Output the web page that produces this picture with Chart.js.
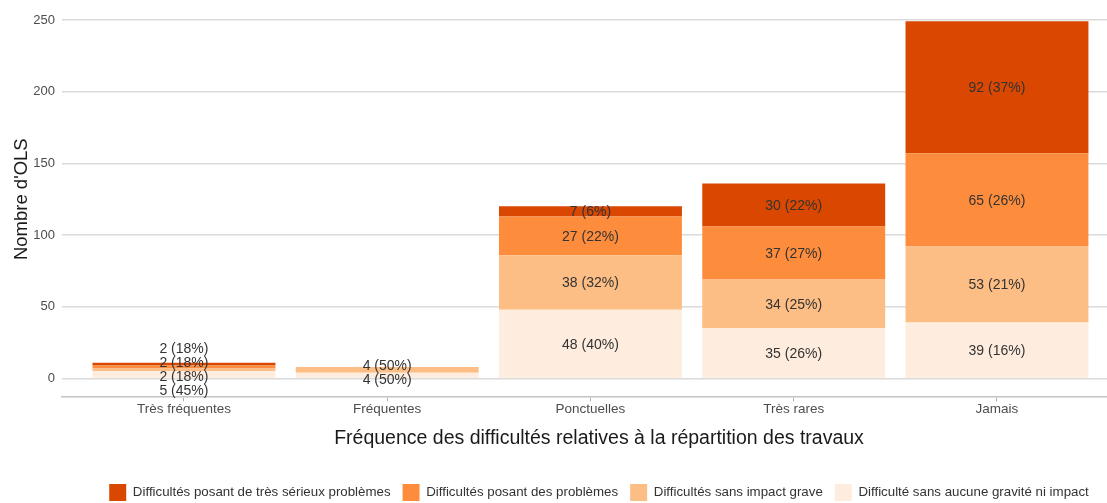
<!DOCTYPE html>
<html lang="fr">
<head>
<meta charset="utf-8">
<title>Fréquence des difficultés relatives à la répartition des travaux</title>
<script src="https://cdn.jsdelivr.net/npm/chart.js@4.4.0/dist/chart.umd.min.js"></script>
<style>
  html, body { margin: 0; padding: 0; background: #fff; overflow: hidden; }
  #wrap { width: 1107px; height: 503px; overflow: hidden; }
</style>
</head>
<body>
<div id="wrap"><canvas id="myChart" width="1136" height="503"></canvas></div>
<script>
const categories = ["Très fréquentes", "Fréquentes", "Ponctuelles", "Très rares", "Jamais"];

// stacked from the bottom up
const sansGravite = [5, 4, 48, 35, 39];
const sansImpactGrave = [2, 4, 38, 34, 53];
const posantProblemes = [2, 0, 27, 37, 65];
const tresSerieux = [2, 0, 7, 30, 92];

const yTicks = [0, 50, 100, 150, 200, 250];

const seriesLabels = [
  "Difficulté sans aucune gravité ni impact",
  "Difficultés sans impact grave",
  "Difficultés posant des problèmes",
  "Difficultés posant de très sérieux problèmes",
];
const seriesValues = [sansGravite, sansImpactGrave, posantProblemes, tresSerieux];
const seriesColors = ["#feedde", "#fdbe85", "#fd8d3c", "#d94701"];

const FONT = "'Liberation Sans', Arial, sans-serif";

// R style rounding (half to even), so 22.5 -> 22
function pct(v, total) {
  const x = (v / total) * 100;
  const f = Math.floor(x);
  if (Math.abs(x - f - 0.5) < 1e-9) return f % 2 === 0 ? f : f + 1;
  return Math.round(x);
}

// push overlapping labels apart around their common centre
function spread(items, gap) {
  items.sort((a, b) => a.y - b.y);
  let moved = true;
  while (moved) {
    moved = false;
    const groups = [];
    items.forEach((it) => {
      const g = groups[groups.length - 1];
      if (g && it.y - g[g.length - 1].y < gap - 0.01) g.push(it);
      else groups.push([it]);
    });
    groups.forEach((g) => {
      if (g.length < 2) return;
      const mid = g.reduce((s, it) => s + it.y, 0) / g.length;
      g.forEach((it, k) => {
        it.y = mid + (k - (g.length - 1) / 2) * gap;
      });
      moved = true;
    });
  }
}

const stackLabels = {
  id: "stackLabels",
  afterDatasetsDraw(chart) {
    const ctx = chart.ctx;
    ctx.save();
    ctx.font = "14px " + FONT;
    ctx.fillStyle = "#333333";
    ctx.textAlign = "center";
    ctx.textBaseline = "middle";
    categories.forEach((cat, i) => {
      const total = seriesValues.reduce((s, arr) => s + arr[i], 0);
      const items = [];
      seriesValues.forEach((arr, d) => {
        const v = arr[i];
        if (!v) return;
        const bar = chart.getDatasetMeta(d).data[i];
        items.push({ text: v + " (" + pct(v, total) + "%)", x: bar.x, y: (bar.y + bar.base) / 2 });
      });
      spread(items, 14);
      items.forEach((it) => ctx.fillText(it.text, it.x, it.y + 1));
    });
    ctx.restore();
  },
};

const data = {
  datasets: seriesValues.map((values, d) => ({
    label: seriesLabels[d],
    data: values.map((v, i) => ({ x: i, y: v })),
    backgroundColor: seriesColors[d],
    borderWidth: 0,
    barPercentage: 0.9,
    categoryPercentage: 1,
  })),
};

const config = {
  type: "bar",
  data: data,
  plugins: [stackLabels],
  options: {
    responsive: false,
    animation: false,
    layout: { padding: { top: 2, bottom: -8, left: 0, right: 0 } },
    plugins: {
      legend: {
        position: "bottom",
        reverse: true,
        fullSize: false,
        labels: {
          boxWidth: 17,
          boxHeight: 17,
          padding: 12,
          color: "#333333",
          font: { family: FONT, size: 13.3 },
        },
      },
      tooltip: { enabled: false },
    },
    scales: {
      x: {
        type: "linear",
        stacked: true,
        offset: false,
        min: -0.6,
        max: 4.684,
        afterBuildTicks: (axis) => {
          axis.ticks = categories.map((c, i) => ({ value: i }));
        },
        afterFit: (axis) => {
          axis.paddingLeft = 0;
          axis.paddingRight = 0;
        },
        ticks: {
          callback: (v) => categories[v],
          autoSkip: false,
          maxRotation: 0,
          padding: 0,
          color: "#4d4d4d",
          font: { family: FONT, size: 13.5 },
        },
        grid: { offset: false, drawOnChartArea: false, drawTicks: true, tickLength: 5, color: "#b3b3b3", lineWidth: 1 },
        border: { display: true, color: "#c4c4c4", width: 1.5 },
        title: {
          display: true,
          text: "Fréquence des difficultés relatives à la répartition des travaux",
          color: "#1a1a1a",
          font: { family: FONT, size: 19.5 },
          padding: { top: 9, bottom: 22 },
        },
      },
      y: {
        stacked: true,
        min: -12.5,
        max: 262.5,
        afterBuildTicks: (axis) => {
          axis.ticks = yTicks.map((v) => ({ value: v }));
        },
        afterFit: (axis) => {
          axis.width = 62;
          axis.paddingTop = 0;
          axis.paddingBottom = 0;
        },
        ticks: {
          padding: 7,
          color: "#4d4d4d",
          font: { family: FONT, size: 13 },
        },
        grid: { color: "#dadada", lineWidth: 1.5, drawTicks: false },
        border: { display: false },
        title: {
          display: true,
          text: "Nombre d'OLS",
          color: "#1a1a1a",
          font: { family: FONT, size: 18.5 },
          padding: { top: 11, bottom: 0 },
        },
      },
    },
  },
};

const myChart = new Chart(document.getElementById("myChart").getContext("2d"), config);
</script>
</body>
</html>
